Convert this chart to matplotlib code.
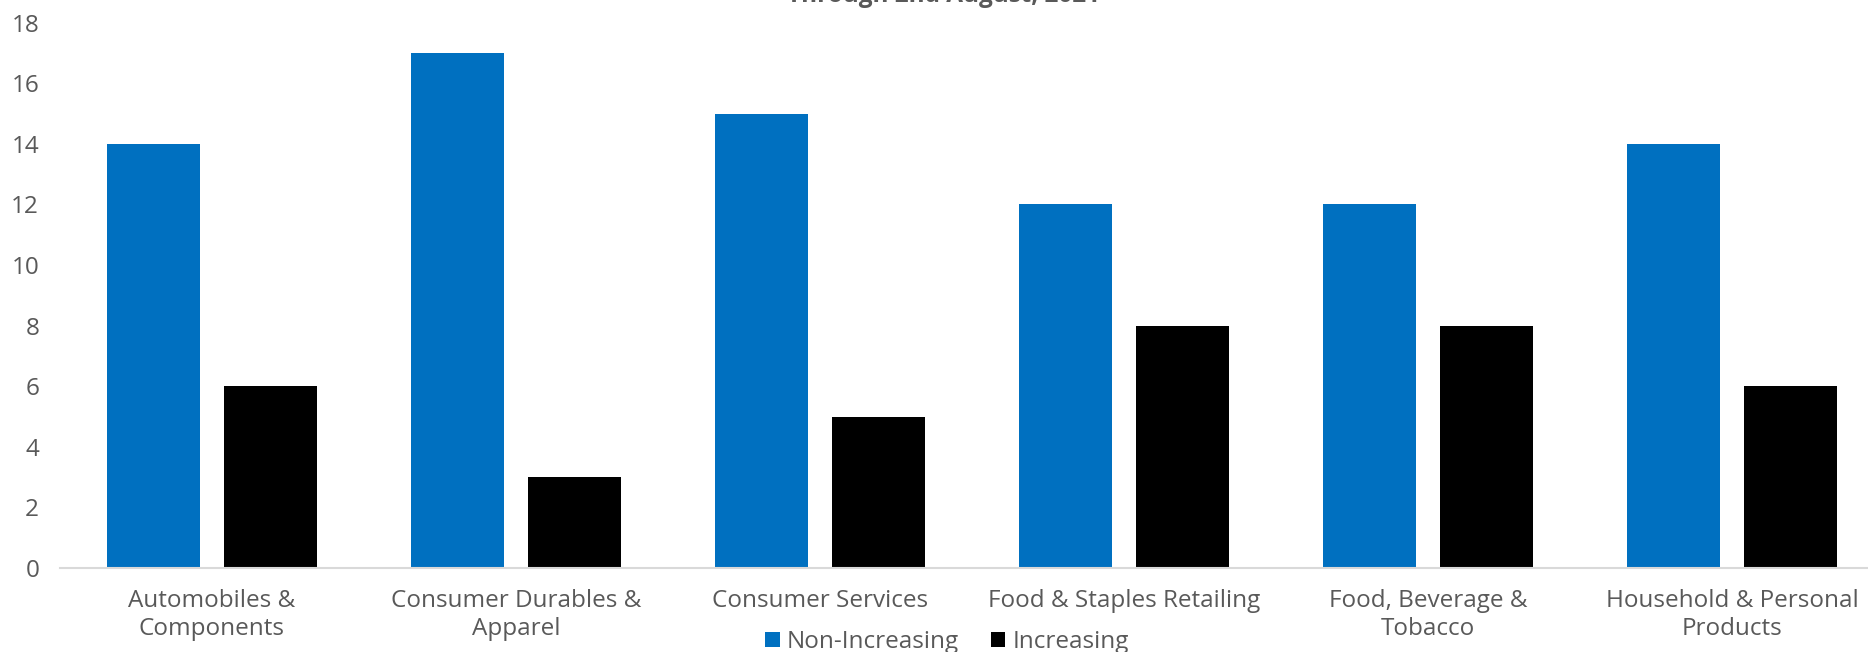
import matplotlib.pyplot as plt
import numpy as np

categories = ["Automobiles &\nComponents", "Consumer Durables &\nApparel", "Consumer Services",
              "Food & Staples Retailing", "Food, Beverage &\nTobacco", "Household & Personal\nProducts"]
non_increasing = [14, 17, 15, 12, 12, 14]
increasing = [6, 3, 5, 8, 8, 6]

plt.rcParams['font.family'] = ['Open Sans', 'DejaVu Sans']
grey = '#595959'

fig = plt.figure(figsize=(18.68, 6.52), dpi=100)
ax = fig.add_axes([60 / 1868, 1 - 568 / 652, (1868 - 60) / 1868, (568 - 22.6) / 652])

x = np.arange(len(categories))
w = 0.306
ax.bar(x - 0.192, non_increasing, w, color='#0070C0', label='Non-Increasing')
ax.bar(x + 0.192, increasing, w, color='#000000', label='Increasing')

ax.set_xlim(-0.5, -0.5 + 1808 / 304)
ax.set_ylim(0, 18)
ax.set_yticks(range(0, 19, 2))
ax.set_xticks(x)
ax.set_xticklabels(categories, fontsize=17.5, color=grey, linespacing=1.25)
ax.tick_params(axis='y', labelsize=17.5, labelcolor=grey, length=0, pad=15)
ax.tick_params(axis='x', length=0, pad=15)
for s in ['top', 'right', 'left']:
    ax.spines[s].set_visible(False)
ax.spines['bottom'].set_color('#D9D9D9')
ax.spines['bottom'].set_linewidth(1.5)

fig.text(943 / 1868, 1 - 2 / 652, "Through 2nd August, 2021", ha='center', va='baseline',
         fontsize=17.5, color=grey, fontweight='bold')

fig.legend(loc='center', bbox_to_anchor=(947 / 1868, 1 - 642 / 652), ncol=2, frameon=False,
           fontsize=17.5, labelcolor=grey, handlelength=0.6, handleheight=0.6,
           handletextpad=0.3, columnspacing=1.3)

plt.savefig("out.png", dpi=100)
